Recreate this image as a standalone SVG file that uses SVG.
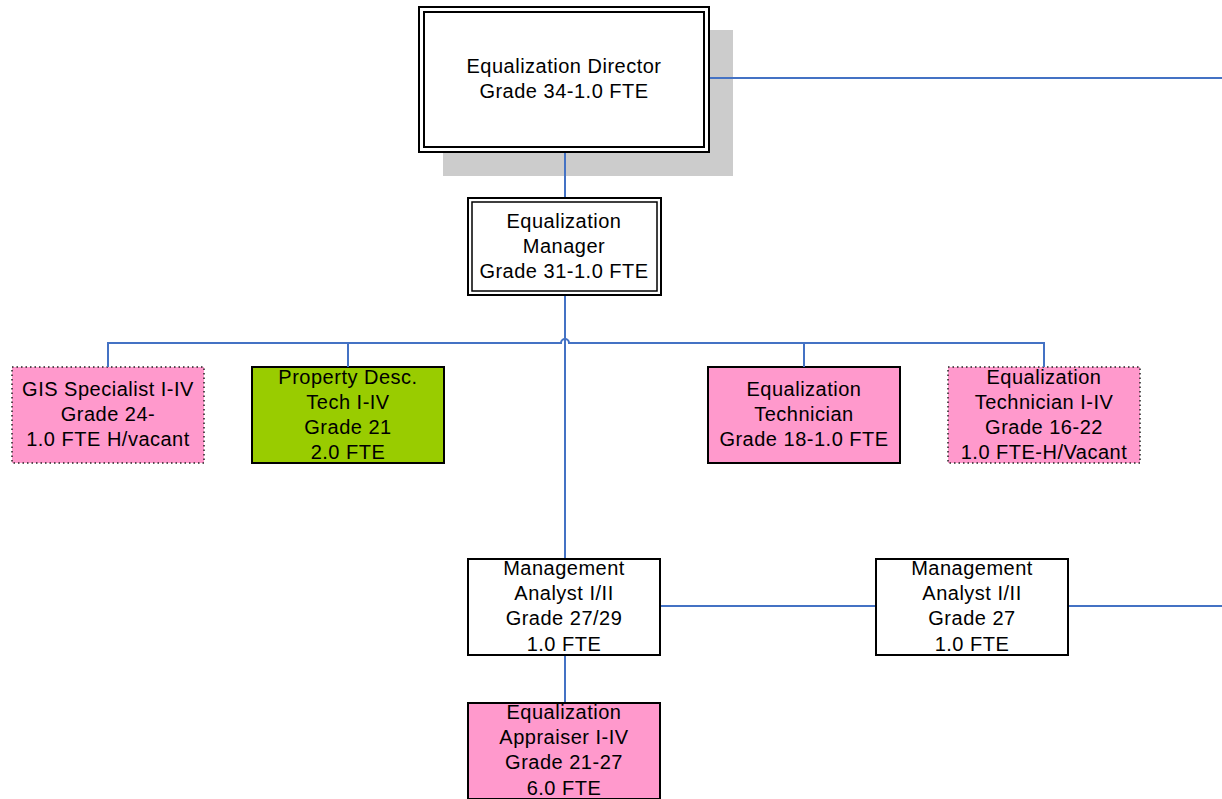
<svg xmlns="http://www.w3.org/2000/svg" width="1222" height="799" viewBox="0 0 1222 799">
<style>
text{font-family:"Liberation Sans",Arial,sans-serif;font-size:20px;letter-spacing:0.5px;fill:#000;text-anchor:middle}
.c{fill:none;stroke:#4472C4;stroke-width:2}
.solid{stroke:#000;stroke-width:2}
.dot{stroke:#222;stroke-width:1.5;stroke-dasharray:1.5 3}
.pink{fill:#FF99CC}
.green{fill:#99CC00}
.white{fill:#fff}
</style>
<rect width="1222" height="799" fill="#fff"/>
<g id="director">
<rect x="443" y="30" width="290" height="146" fill="#CCCCCC"/>
<rect x="419" y="7" width="290" height="145" class="white" stroke="#000" stroke-width="2"/>
<rect x="424" y="12" width="280" height="135" fill="none" stroke="#000" stroke-width="2"/>
<text x="564" y="73">Equalization Director</text>
<text x="564" y="98">Grade 34-1.0 FTE</text>
</g>
<g id="manager">
<rect x="468" y="198" width="193" height="97" class="white" stroke="#000" stroke-width="2"/>
<rect x="472" y="202" width="185" height="89" fill="none" stroke="#000" stroke-width="1.5"/>
<text x="564" y="228">Equalization</text>
<text x="564" y="253">Manager</text>
<text x="564" y="278">Grade 31-1.0 FTE</text>
</g>
<g id="gis">
<rect x="12" y="367" width="192" height="96" class="pink dot"/>
<text x="108" y="396">GIS Specialist I-IV</text>
<text x="108" y="421">Grade 24-</text>
<text x="108" y="446">1.0 FTE H/vacant</text>
</g>
<g id="property">
<rect x="252" y="367" width="192" height="96" class="green solid"/>
<text x="348" y="384">Property Desc.</text>
<text x="348" y="409">Tech I-IV</text>
<text x="348" y="434">Grade 21</text>
<text x="348" y="459">2.0 FTE</text>
</g>
<g id="eqtech">
<rect x="708" y="367" width="192" height="96" class="pink solid"/>
<text x="804" y="396">Equalization</text>
<text x="804" y="421">Technician</text>
<text x="804" y="446">Grade 18-1.0 FTE</text>
</g>
<g id="eqtech2">
<rect x="948" y="367" width="192" height="96" class="pink dot"/>
<text x="1044" y="384">Equalization</text>
<text x="1044" y="409">Technician I-IV</text>
<text x="1044" y="434">Grade 16-22</text>
<text x="1044" y="459">1.0 FTE-H/Vacant</text>
</g>
<g id="analyst1">
<rect x="468" y="559" width="192" height="96" class="white solid"/>
<text x="564" y="575">Management</text>
<text x="564" y="600">Analyst I/II</text>
<text x="564" y="625">Grade 27/29</text>
<text x="564" y="651">1.0 FTE</text>
</g>
<g id="analyst2">
<rect x="876" y="559" width="192" height="96" class="white solid"/>
<text x="972" y="575">Management</text>
<text x="972" y="600">Analyst I/II</text>
<text x="972" y="625">Grade 27</text>
<text x="972" y="651">1.0 FTE</text>
</g>
<g id="appraiser">
<rect x="468" y="703" width="192" height="96" class="pink solid"/>
<text x="564" y="719">Equalization</text>
<text x="564" y="744">Appraiser I-IV</text>
<text x="564" y="769">Grade 21-27</text>
<text x="564" y="795">6.0 FTE</text>
</g>
<g id="connectors">
<path class="c" d="M710 78H1222"/>
<path class="c" d="M565 153V197"/>
<path class="c" d="M565 296V558"/>
<path class="c" d="M108 367V343H561A4 4 0 0 1 569 343H1044V367"/>
<path class="c" d="M348 343V367"/>
<path class="c" d="M804 343V367"/>
<path class="c" d="M661 606H875"/>
<path class="c" d="M1069 606H1222"/>
<path class="c" d="M565 656V702"/>
</g>
</svg>
